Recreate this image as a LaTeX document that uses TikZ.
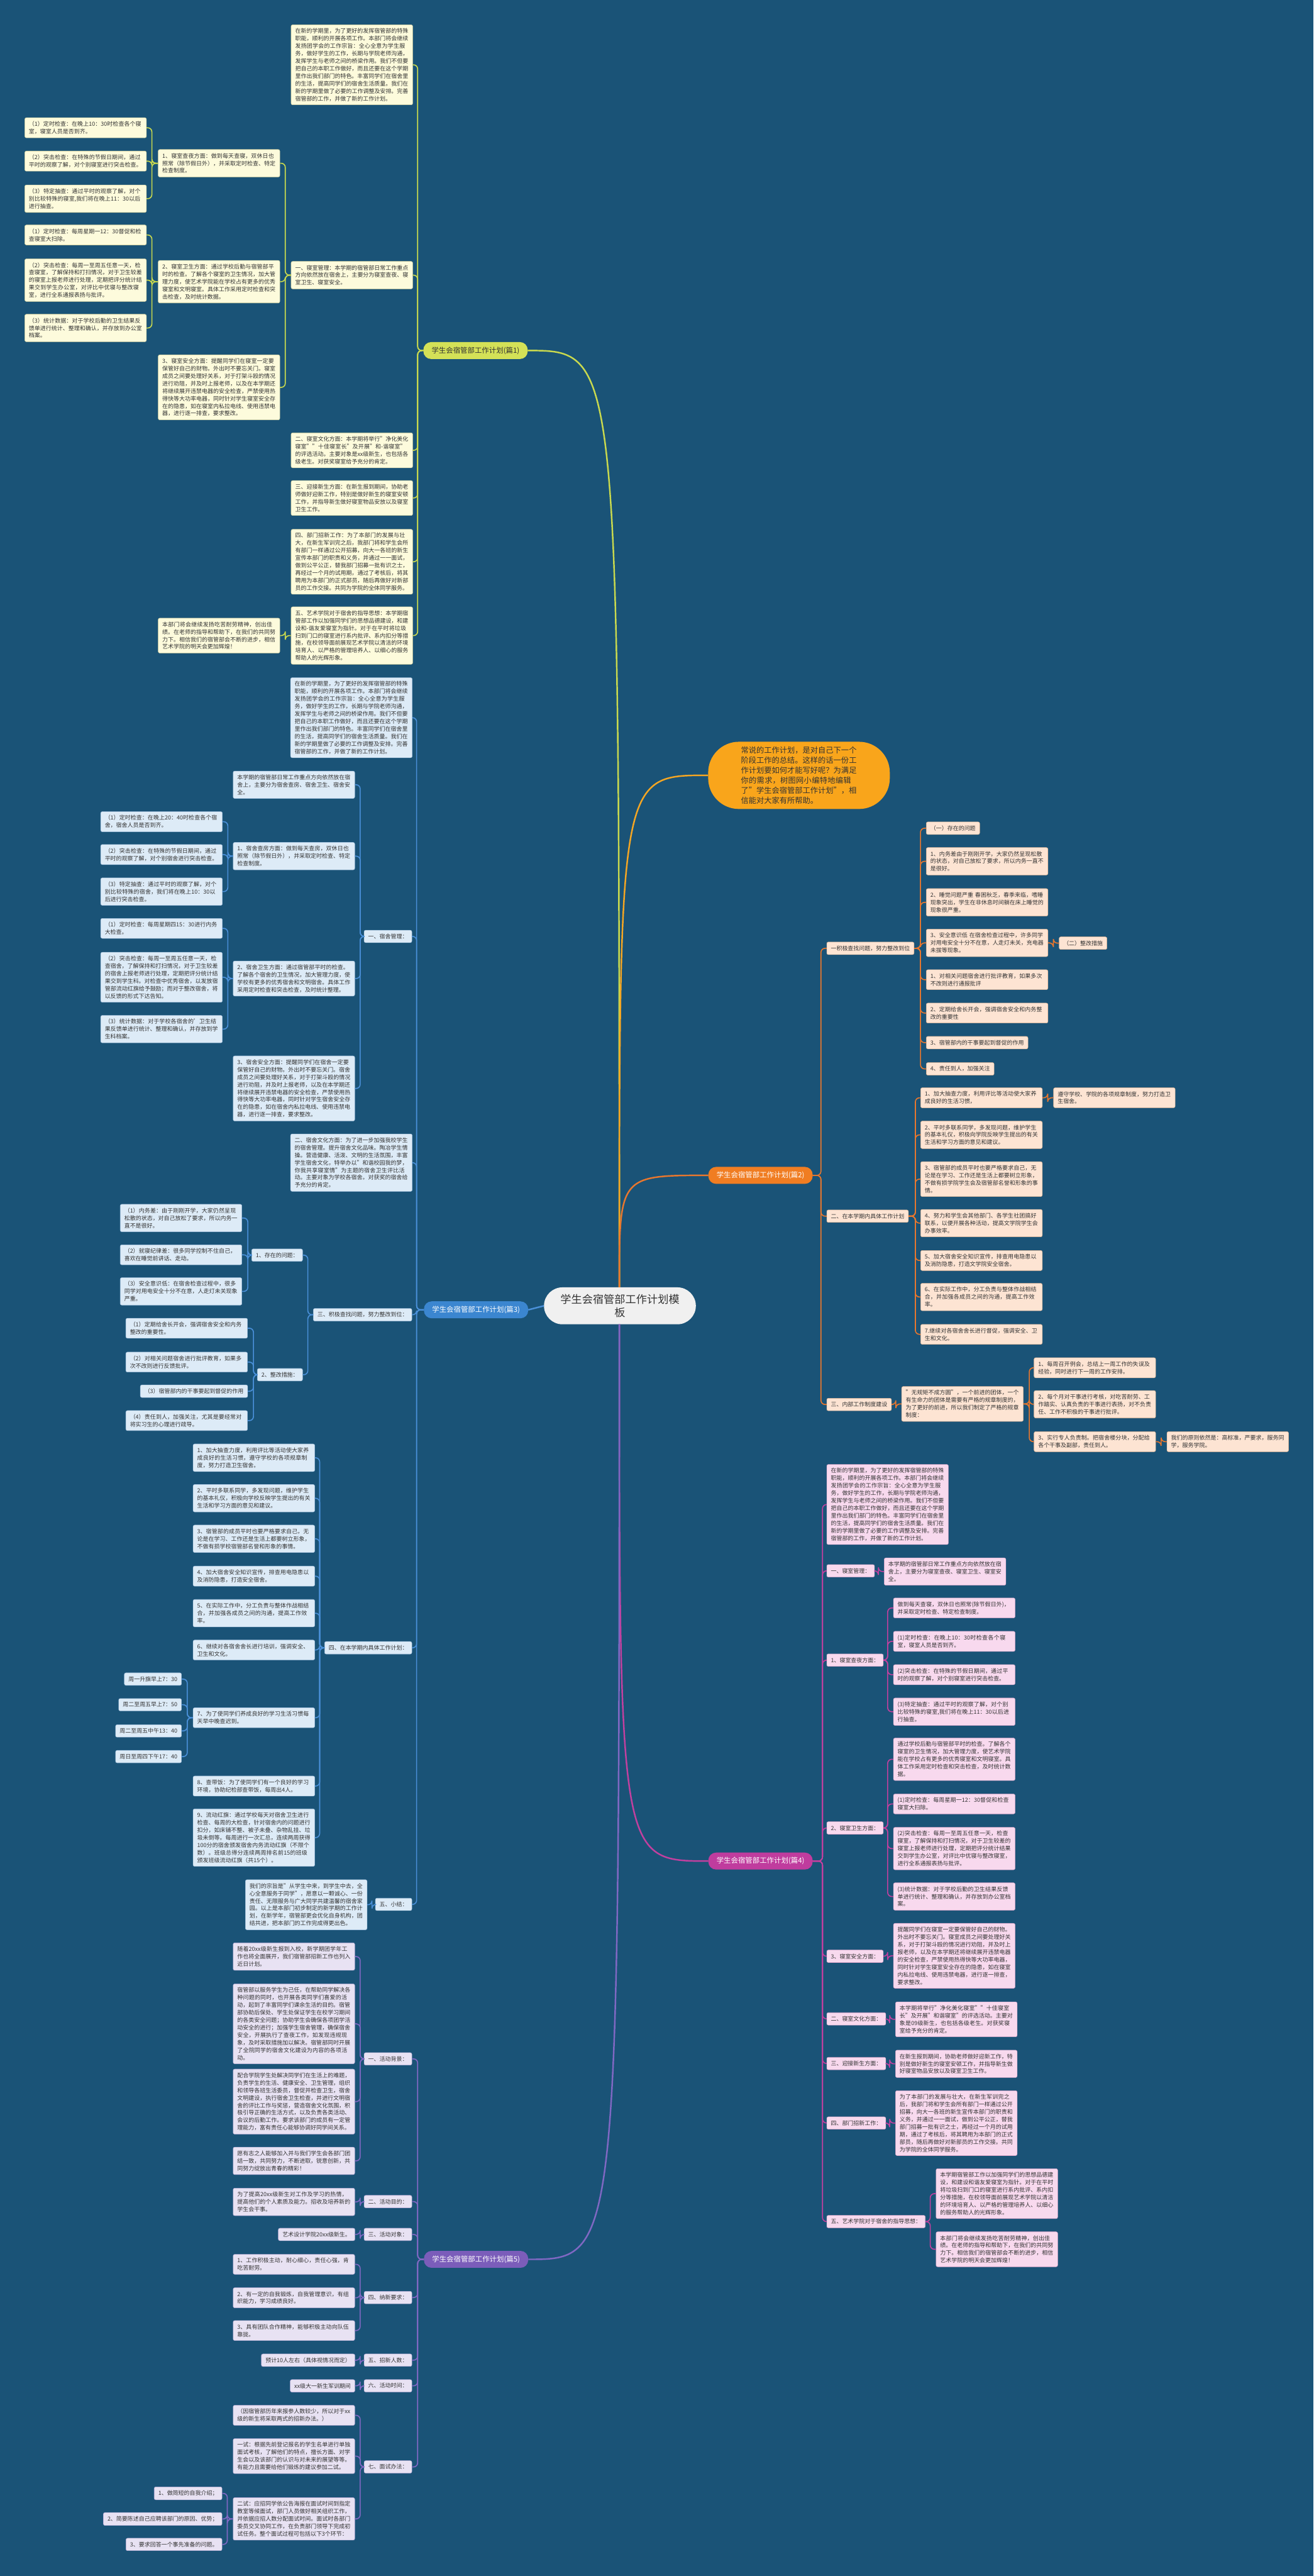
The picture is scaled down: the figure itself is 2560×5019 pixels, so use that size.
\documentclass[tikz,border=0pt]{standalone}
\usepackage{fontspec}
\setmainfont{Noto Sans CJK SC}
\XeTeXlinebreaklocale "zh"
\XeTeXlinebreakskip=0pt plus 1pt
\definecolor{bgc}{HTML}{1A5377}
\definecolor{txt}{HTML}{333333}
\definecolor{yfill}{HTML}{FDFBDC}\definecolor{yedge}{HTML}{D6D3A0}\definecolor{yline}{HTML}{C9D94E}\definecolor{ylabc}{HTML}{D4E157}
\definecolor{ofill}{HTML}{FDE4D3}\definecolor{oedge}{HTML}{E6B896}\definecolor{oline}{HTML}{E8772E}\definecolor{olabc}{HTML}{F07D22}
\definecolor{bfill}{HTML}{DDEBF7}\definecolor{bedge}{HTML}{A9C5E0}\definecolor{bline}{HTML}{4A90D9}\definecolor{blabc}{HTML}{3B86D0}
\definecolor{mfill}{HTML}{F8D9EE}\definecolor{medge}{HTML}{DDA8CC}\definecolor{mline}{HTML}{C2409F}\definecolor{mlabc}{HTML}{C03C9E}
\definecolor{pfill}{HTML}{E8E2F3}\definecolor{pedge}{HTML}{BDB0DA}\definecolor{pline}{HTML}{8068C3}\definecolor{plabc}{HTML}{7B5DBA}
\definecolor{introc}{HTML}{F9A51B}\definecolor{introl}{HTML}{F5A623}
\definecolor{ctrc}{HTML}{F0F0F0}
\tikzset{
 nbox/.style={rounded corners=3pt, inner xsep=8pt, inner ysep=7pt, font=\fontsize{11pt}{14.6pt}\selectfont, text=txt, align=left, line width=0.7pt},
 tw/.style={text width=221pt},
 nw/.style={anchor=north west}, ne/.style={anchor=north east},
 yb/.style={nbox, fill=yfill, draw=yedge},
 ob/.style={nbox, fill=ofill, draw=oedge},
 bb/.style={nbox, fill=bfill, draw=bedge},
 mb/.style={nbox, fill=mfill, draw=medge},
 pb/.style={nbox, fill=pfill, draw=pedge},
 blab/.style={rounded corners=15pt, inner xsep=16pt, inner ysep=8pt, minimum height=33pt, font=\fontsize{14pt}{16pt}\selectfont},
 lk/.style={line width=2pt, rounded corners=8pt},
 yl/.style={lk, draw=yline}, ol/.style={lk, draw=oline}, bl/.style={lk, draw=bline},
 ml/.style={lk, draw=mline}, pl/.style={lk, draw=pline},
}
\newcommand\linkL[4]{\draw[#1] (#2.west) -- (#2.west -| #3) |- (#4.east);}
\newcommand\linkR[4]{\draw[#1] (#2.east) -- (#2.east -| #3) |- (#4.west);}
\begin{document}
\begin{tikzpicture}[x=1pt,y=-1pt]
\fill[bgc] (0,0) rectangle (2560,5019);
\useasboundingbox (0,0) rectangle (2560,5019);

% ---------- center ----------
\node[fill=ctrc, rounded corners=36pt, minimum width=296pt, minimum height=72pt, text width=240pt, align=center, font=\fontsize{21pt}{26pt}\selectfont, text=txt, anchor=north west] (ctr) at (1060,2508) {学生会宿管部工作计划模\\板};

\node[fill=introc, rounded corners=60pt, inner xsep=64pt, inner ysep=7pt, text width=226pt, minimum height=131pt, align=left, font=\fontsize{15pt}{19.5pt}\selectfont, text=txt, anchor=north west] (intro) at (1380,1445) {常说的工作计划，是对自己下一个阶段工作的总结。这样的话一份工作计划要如何才能写好呢？为满足你的需求，树图网小编特地编辑了"学生会宿管部工作计划"，相信能对大家有所帮助。};

\node[blab, fill=ylabc, text=txt, anchor=west] (p1) at (825,683) {学生会宿管部工作计划(篇1)};
\node[blab, fill=olabc, text=white, anchor=east] (p2) at (1584,2290) {学生会宿管部工作计划(篇2)};
\node[blab, fill=blabc, text=white, anchor=west] (p3) at (826,2552) {学生会宿管部工作计划(篇3)};
\node[blab, fill=mlabc, text=white, anchor=east] (p4) at (1584,3626) {学生会宿管部工作计划(篇4)};
\node[blab, fill=plabc, text=white, anchor=west] (p5) at (826,4402) {学生会宿管部工作计划(篇5)};

\draw[draw=yline, line width=3pt] (1207,2508) .. controls (1207,683) and (1207,683) .. (p1.east);
\draw[draw=introl, line width=3pt] (1207,2508) .. controls (1207,1510) and (1207,1510) .. (intro.west);
\draw[draw=oline, line width=3pt] (1207,2508) .. controls (1207,2290) and (1207,2290) .. (p2.west);
\draw[draw=bline, line width=3pt] (ctr.west) -- (p3.east);
\draw[draw=mline, line width=3pt] (1207,2580) .. controls (1207,3626) and (1207,3626) .. (p4.west);
\draw[draw=pline, line width=3pt] (1207,2580) .. controls (1207,4402) and (1207,4402) .. (p5.east);

% ---------- trunk coordinates ----------
\coordinate (t1) at (814,0); \coordinate (t1b) at (556,0); \coordinate (t1b1) at (296,0);
\coordinate (t3) at (812,0); \coordinate (t3b) at (702,0); \coordinate (t3b1) at (444,0);
\coordinate (t3d) at (600,0); \coordinate (t3d1) at (483,0); \coordinate (t3d2) at (494,0);
\coordinate (t3e) at (623,0); \coordinate (t3e7) at (365,0); \coordinate (t3f) at (725,0);
\coordinate (t5) at (814,0); \coordinate (t5x) at (702,0); \coordinate (t5g) at (443,0);
\coordinate (t2) at (1600,0); \coordinate (t2A) at (1794,0); \coordinate (t2Ax) at (2053,0);
\coordinate (t2B) at (1784,0); \coordinate (t2Bx) at (2042,0); \coordinate (t2C) at (1746,0);
\coordinate (t2C1) at (2006,0); \coordinate (t2Cx) at (2263,0);
\coordinate (t4) at (1603,0); \coordinate (t4b) at (1712,0); \coordinate (t4c) at (1730,0);
\coordinate (t4f) at (1734,0); \coordinate (t4i) at (1813,0);

% ================= PT1 =================
\node[yb,tw,nw] (p1a) at (567,48) {在新的学期里，为了更好的发挥宿管部的特殊职能，顺利的开展各项工作。本部门将会继续发扬团学会的工作宗旨：全心全意为学生服务，做好学生的工作，长期与学院老师沟通，发挥学生与老师之间的桥梁作用。我们不但要把自己的本职工作做好，而且还要在这个学期里作出我们部门的特色。丰富同学们在宿舍里的生活，提高同学们的宿舍生活质量。我们在新的学期里做了必要的工作调整及安排。完善宿管部的工作，并做了新的工作计划。};
\node[yb,tw,nw] (p1b) at (567,509) {一、寝室管理：本学期的宿管部日常工作重点方向依然放在宿舍上，主要分为寝室查夜、寝室卫生、寝室安全。};
\node[yb,tw,nw] (p1c) at (567,843) {二、寝室文化方面：本学期将举行"净化美化寝室""十佳寝室长"及开展"和-谐寝室"的评选活动。主要对象是xx级新生，也包括各级老生。对获奖寝室给予充分的肯定。};
\node[yb,tw,nw] (p1d) at (567,936) {三、迎接新生方面：在新生报到期间，协助老师做好迎新工作，特别是做好新生的寝室安顿工作，并指导新生做好寝室物品安放以及寝室卫生工作。};
\node[yb,tw,nw] (p1e) at (567,1031) {四、部门招新工作：为了本部门的发展与壮大，在新生军训完之后，我部门将和学生会所有部门一样通过公开招募，向大一各班的新生宣传本部门的职责和义务，并通过一一面试，做到公平公正，替我部门招募一批有识之士，再经过一个月的试用期，通过了考核后，将其聘用为本部门的正式部员，随后再做好对新部员的工作交接。共同为学院的全体同学服务。};
\node[yb,tw,nw] (p1f) at (567,1182) {五、艺术学院对于宿舍的指导思想：本学期宿管部工作以加强同学们的思想品德建设，和建设和-谐友爱寝室为指针。对于在平时将垃圾扫到门口的寝室进行系内批评、系内扣分等措施，在校领导面前展现艺术学院以清洁的环境培育人、以严格的管理培养人、以细心的服务帮助人的光辉形象。};
\node[yb,tw,nw] (p1f1) at (308,1204) {本部门将会继续发扬吃苦耐劳精神，创出佳绩。在老师的指导和帮助下，在我们的共同努力下。相信我们的宿管部会不断的进步，相信艺术学院的明天会更加辉煌！};
\node[yb,tw,nw] (p1b1) at (308,291) {1、寝室查夜方面：做到每天查寝，双休日也照常（除节假日外），并采取定时检查、特定检查制度。};
\node[yb,tw,nw] (p1b2) at (308,507) {2、寝室卫生方面：通过学校后勤与宿管部平时的检查。了解各个寝室的卫生情况，加大管理力度，使艺术学院能在学校占有更多的优秀寝室和文明寝室。具体工作采用定时检查和突击检查，及时统计数据。};
\node[yb,tw,nw] (p1b3) at (308,691) {3、寝室安全方面：提醒同学们在寝室一定要保管好自己的财物。外出时不要忘关门。寝室成员之间要处理好关系，对于打架斗殴的情况进行劝阻，并及时上报老师，以及在本学期还将继续展开违禁电器的安全检查，严禁使用热得快等大功率电器，同时针对学生寝室安全存在的隐患，如在寝室内私拉电线、使用违禁电器，进行逐一排查，要求整改。};
\node[yb,tw,nw] (p1b1a) at (48,229) {（1）定时检查：在晚上10：30时检查各个寝室，寝室人员是否到齐。};
\node[yb,tw,nw] (p1b1b) at (48,294) {（2）突击检查：在特殊的节假日期间，通过平时的观察了解，对个别寝室进行突击检查。};
\node[yb,tw,nw] (p1b1c) at (48,360) {（3）特定抽查：通过平时的观察了解，对个别比较特殊的寝室,我们将在晚上11：30以后进行抽查。};
\node[yb,tw,nw] (p1b2a) at (48,438) {（1）定时检查：每周星期一12：30督促和检查寝室大扫除。};
\node[yb,tw,nw] (p1b2b) at (48,504) {（2）突击检查：每周一至周五任意一天，检查寝室，了解保持和打扫情况，对于卫生较差的寝室上报老师进行处理，定期把评分统计结果交到学生办公室，对评比中优寝与整改寝室，进行全系通报表扬与批评。};
\node[yb,tw,nw] (p1b2c) at (48,612) {（3）统计数据：对于学校后勤的卫生结果反馈单进行统计、整理和确认，并存放到办公室档案。};

\foreach \c in {p1a,p1b,p1c,p1d,p1e,p1f} {\linkL{yl}{p1}{t1}{\c}}
\foreach \c in {p1b1,p1b2,p1b3} {\linkL{yl}{p1b}{t1b}{\c}}
\linkL{yl}{p1f}{t1b}{p1f1}
\foreach \c in {p1b1a,p1b1b,p1b1c} {\linkL{yl}{p1b1}{t1b1}{\c}}
\foreach \c in {p1b2a,p1b2b,p1b2c} {\linkL{yl}{p1b2}{t1b1}{\c}}

% ================= PT3 =================
\node[bb,tw,nw] (p3a) at (566,1320) {在新的学期里，为了更好的发挥宿管部的特殊职能，顺利的开展各项工作。本部门将会继续发扬团学会的工作宗旨：全心全意为学生服务，做好学生的工作，长期与学院老师沟通，发挥学生与老师之间的桥梁作用。我们不但要把自己的本职工作做好，而且还要在这个学期里作出我们部门的特色。丰富同学们在宿舍里的生活，提高同学们的宿舍生活质量。我们在新的学期里做了必要的工作调整及安排。完善宿管部的工作，并做了新的工作计划。};
\node[bb,ne] (p3b) at (803,1812) {一、宿舍管理：};
\node[bb,tw,nw] (p3b0) at (454,1502) {本学期的宿管部日常工作重点方向依然放在宿舍上，主要分为宿舍查房、宿舍卫生、宿舍安全。};
\node[bb,tw,nw] (p3b1) at (454,1641) {1、宿舍查房方面：做到每天查房，双休日也照常（除节假日外），并采取定时检查、特定检查制度。};
\node[bb,tw,nw] (p3b2) at (454,1872) {2、宿舍卫生方面：通过宿管部平时的检查。了解各个宿舍的卫生情况，加大管理力度，使学校有更多的优秀宿舍和文明宿舍。具体工作采用定时检查和突击检查，及时统计整理。};
\node[bb,tw,nw] (p3b3) at (454,2057) {3、宿舍安全方面：提醒同学们在宿舍一定要保管好自己的财物。外出时不要忘关门。宿舍成员之间要处理好关系，对于打架斗殴的情况进行劝阻，并及时上报老师，以及在本学期还将继续展开违禁电器的安全检查，严禁使用热得快等大功率电器，同时针对学生宿舍安全存在的隐患，如在宿舍内私拉电线、使用违禁电器，进行逐一排查，要求整改。};
\node[bb,tw,nw] (p3b1a) at (196,1581) {（1）定时检查：在晚上20：40时检查各个宿舍，宿舍人员是否到齐。};
\node[bb,tw,nw] (p3b1b) at (196,1645) {（2）突击检查：在特殊的节假日期间，通过平时的观察了解，对个别宿舍进行突击检查。};
\node[bb,tw,nw] (p3b1c) at (196,1710) {（3）特定抽查：通过平时的观察了解，对个别比较特殊的宿舍，我们将在晚上10：30以后进行突击检查。};
\node[bb,tw,nw] (p3b2a) at (196,1789) {（1）定时检查：每周星期四15：30进行内务大检查。};
\node[bb,tw,nw] (p3b2b) at (196,1855) {（2）突击检查：每周一至周五任意一天，检查宿舍，了解保持和打扫情况，对于卫生较差的宿舍上报老师进行处理，定期把评分统计结果交到学生科。对检查中优秀宿舍，以发放宿管部流动红旗给予鼓励；而对于整改宿舍，将以反馈的形式下达告知。};
\node[bb,tw,nw] (p3b2c) at (196,1978) {（3）统计数据：对于学校各宿舍的'卫生结果反馈单进行统计、整理和确认，并存放到学生科档案。};
\node[bb,tw,nw] (p3c) at (566,2209) {二、宿舍文化方面：为了进一步加强我校学生的宿舍管理。提升宿舍文化品味。陶冶学生情操。营造健康、活泼、文明的生活氛围，丰富学生宿舍文化，特举办以"和谐校园我的梦，你我共享寝室情"为主题的宿舍卫生评比活动。主要对象为学校各宿舍。对获奖的宿舍给予充分的肯定。};
\node[bb,ne] (p3d) at (803,2549) {三、积极查找问题，努力整改到位：};
\node[bb,ne] (p3d1) at (590,2433) {1、存在的问题：};
\node[bb,ne] (p3d2) at (590,2666) {2、整改措施：};
\node[bb,tw,nw] (p3d1a) at (234,2346) {（1）内务差：由于刚刚开学，大家仍然呈现松散的状态，对自己放松了要求，所以内务一直不是很好。};
\node[bb,tw,nw] (p3d1b) at (234,2425) {（2）就寝纪律差：很多同学控制不住自己，喜欢在睡觉前讲话、走动。};
\node[bb,tw,nw] (p3d1c) at (234,2489) {（3）安全意识低：在宿舍检查过程中，很多同学对用电安全十分不在意，人走灯未关现象严重。};
\node[bb,tw,nw] (p3d2a) at (245,2568) {（1）定期给舍长开会，强调宿舍安全和内务整改的重要性。};
\node[bb,tw,nw] (p3d2b) at (245,2634) {（2）对相关问题宿舍进行批评教育，如果多次不改则进行反馈批评。};
\node[bb,ne] (p3d2c) at (483,2698) {（3）宿管部内的干事要起到督促的作用};
\node[bb,tw,nw] (p3d2d) at (245,2748) {（4）责任到人，加强关注，尤其是要经常对将实习生的心理进行疏导。};
\node[bb,ne] (p3e) at (803,3198) {四、在本学期内具体工作计划：};
\node[bb,tw,nw] (p3e1) at (376,2813) {1、加大抽查力度，利用评比等活动使大家养成良好的生活习惯，遵守学校的各项规章制度，努力打造卫生宿舍。};
\node[bb,tw,nw] (p3e2) at (376,2892) {2、平时多联系同学，多发现问题，维护学生的基本礼仪，积极向学校反映学生提出的有关生活和学习方面的意见和建议。};
\node[bb,tw,nw] (p3e3) at (376,2971) {3、宿管部的成员平时也要严格要求自己，无论是在学习、工作还是生活上都要树立形象，不做有损学校宿管部名誉和形象的事情。};
\node[bb,tw,nw] (p3e4) at (376,3051) {4、加大宿舍安全知识宣传，排查用电隐患以及消防隐患，打造安全宿舍。};
\node[bb,tw,nw] (p3e5) at (376,3116) {5、在实际工作中，分工负责与整体作战相结合，并加强各成员之间的沟通，提高工作效率。};
\node[bb,tw,nw] (p3e6) at (376,3195) {6、继续对各宿舍舍长进行培训，强调安全、卫生和文化。};
\node[bb,tw,nw] (p3e7) at (376,3327) {7、为了使同学们养成良好的学习生活习惯每天早中晚查迟到。};
\node[bb,tw,nw] (p3e8) at (376,3460) {8、查带饭：为了使同学们有一个良好的学习环境，协助纪检部查带饭，每周出4人。};
\node[bb,tw,nw] (p3e9) at (376,3524) {9、流动红旗：通过学校每天对宿舍卫生进行检查、每周的大检查，针对宿舍内的问题进行扣分，如床铺不整、被子未叠、杂物乱挂、垃圾未倒等。每周进行一次汇总，连续两周获得100分的宿舍颁发宿舍内务流动红旗（不限个数）。班级总得分连续两周排名前15的班级颁发班级流动红旗（共15个）。};
\node[bb,ne] (p3e7a) at (354,3259) {周一升旗早上7：30};
\node[bb,ne] (p3e7b) at (354,3309) {周二至周五早上7：50};
\node[bb,ne] (p3e7c) at (354,3360) {周二至周五中午13：40};
\node[bb,ne] (p3e7d) at (354,3410) {周日至周四下午17：40};
\node[bb,ne] (p3f) at (803,3698) {五、小结：};
\node[bb,tw,nw] (p3f1) at (478,3662) {我们的宗旨是"从学生中来，到学生中去，全心全意服务于同学"，愿意以一颗诚心、一份责任、无限服务与广大同学共建温馨的宿舍家园。以上是本部门初步制定的新学期的工作计划，在新学年，宿管部更会优化自身机构，团结共进，把本部门的工作完成得更出色。};

\foreach \c in {p3a,p3b,p3c,p3d,p3e,p3f} {\linkL{bl}{p3}{t3}{\c}}
\foreach \c in {p3b0,p3b1,p3b2,p3b3} {\linkL{bl}{p3b}{t3b}{\c}}
\foreach \c in {p3b1a,p3b1b,p3b1c} {\linkL{bl}{p3b1}{t3b1}{\c}}
\foreach \c in {p3b2a,p3b2b,p3b2c} {\linkL{bl}{p3b2}{t3b1}{\c}}
\foreach \c in {p3d1,p3d2} {\linkL{bl}{p3d}{t3d}{\c}}
\foreach \c in {p3d1a,p3d1b,p3d1c} {\linkL{bl}{p3d1}{t3d1}{\c}}
\foreach \c in {p3d2a,p3d2b,p3d2c,p3d2d} {\linkL{bl}{p3d2}{t3d2}{\c}}
\foreach \c in {p3e1,p3e2,p3e3,p3e4,p3e5,p3e6,p3e7,p3e8,p3e9} {\linkL{bl}{p3e}{t3e}{\c}}
\foreach \c in {p3e7a,p3e7b,p3e7c,p3e7d} {\linkL{bl}{p3e7}{t3e7}{\c}}
\linkL{bl}{p3f}{t3f}{p3f1}

% ================= PT5 =================
\node[pb,ne] (p5a) at (803,3999) {一、活动背景：};
\node[pb,tw,nw] (p5a1) at (454,3785) {随着20xx级新生报到入校，新学期团学年工作也将全面展开，我们宿管部招新工作也列入近日计划。};
\node[pb,tw,nw] (p5a2) at (454,3865) {宿管部以服务学生为己任，在帮助同学解决各种问题的同时，也开展各类同学们喜爱的活动，起到了丰富同学们课余生活的目的。宿管部协助后保处、学生处保证学生在校学习期间的各类安全问题；协助学生会确保各项团学活动安全的进行；加强学生宿舍管理，确保宿舍安全，开展执行了查夜工作，如发现违规现象，及时采取措施加以解决。宿管部同时开展了全院同学的宿舍文化建设为内容的各项活动。};
\node[pb,tw,nw] (p5a3) at (454,4031) {配合学院学生处解决同学们在生活上的难题，负责学生的生活、健康安全、卫生管理，组织和领导各班生活委员，督促并检查卫生，宿舍文明建设，执行宿舍卫生检查，并进行文明宿舍的评比工作与奖惩，营造宿舍文化氛围，积极引导正确的生活方式，以及负责各类活动、会议的后勤工作。要求该部门的成员有一定管理能力，富有责任心能够协调好同学间关系。};
\node[pb,tw,nw] (p5a4) at (454,4183) {愿有志之人能够加入并与我们学生会各部门团结一致，共同努力，不断进取，锐意创新，共同努力绽放出青春的精彩！};
\node[pb,ne] (p5b) at (803,4277) {二、活动目的：};
\node[pb,tw,nw] (p5b1) at (454,4263) {为了提高20xx级新生对工作及学习的热情，提高他们的个人素质及能力。招收及培养新的学生会干事。};
\node[pb,ne] (p5c) at (803,4341) {三、活动对象：};
\node[pb,ne] (p5c1) at (692,4341) {艺术设计学院20xx级新生。};
\node[pb,ne] (p5d) at (803,4464) {四、纳新要求：};
\node[pb,tw,nw] (p5d1) at (454,4392) {1、工作积极主动，耐心细心，责任心强，肯吃苦耐劳。};
\node[pb,tw,nw] (p5d2) at (454,4457) {2、有一定的自我锻炼，自我管理意识，有组织能力，学习成绩良好。};
\node[pb,tw,nw] (p5d3) at (454,4521) {3、具有团队合作精神，能够积极主动向队伍靠拢。};
\node[pb,ne] (p5e) at (803,4586) {五、招新人数：};
\node[pb,ne] (p5e1) at (692,4586) {预计10人左右（具体视情况而定）};
\node[pb,ne] (p5f) at (803,4636) {六、活动时间：};
\node[pb,ne] (p5f1) at (692,4636) {xx级大一新生军训期间};
\node[pb,ne] (p5g) at (803,4794) {七、面试办法：};
\node[pb,tw,nw] (p5g1) at (454,4686) {（因宿管部历年来报参人数较少，所以对于xx级的新生将采取两式的招新办法。）};
\node[pb,tw,nw] (p5g2) at (454,4751) {一试：根据先前登记报名的学生名单进行单独面试考核，了解他们的特点，擅长方面、对学生会以及该部门的认识与对未来的展望等等。有能力且需要给他们锻炼的建议参加二试。};
\node[pb,tw,nw] (p5g3) at (454,4866) {二试：应招同学依公告海报在面试时间到指定教室等候面试，部门人员做好相关组织工作，并依据应招人数分配面试时间。面试时各部门委员交叉协同工作，在负责部门领导下完成初试任务。整个面试过程可包括以下3个环节：};
\node[pb,ne] (p5g3a) at (433,4845) {1、做简短的自我介绍；};
\node[pb,ne] (p5g3b) at (433,4895) {2、简要陈述自己应聘该部门的原因、优势；};
\node[pb,ne] (p5g3c) at (433,4945) {3、要求回答一个事先准备的问题。};

\foreach \c in {p5a,p5b,p5c,p5d,p5e,p5f,p5g} {\linkL{pl}{p5}{t5}{\c}}
\foreach \c in {p5a1,p5a2,p5a3,p5a4} {\linkL{pl}{p5a}{t5x}{\c}}
\linkL{pl}{p5b}{t5x}{p5b1}
\linkL{pl}{p5c}{t5x}{p5c1}
\foreach \c in {p5d1,p5d2,p5d3} {\linkL{pl}{p5d}{t5x}{\c}}
\linkL{pl}{p5e}{t5x}{p5e1}
\linkL{pl}{p5f}{t5x}{p5f1}
\foreach \c in {p5g1,p5g2,p5g3} {\linkL{pl}{p5g}{t5x}{\c}}
\foreach \c in {p5g3a,p5g3b,p5g3c} {\linkL{pl}{p5g3}{t5g}{\c}}

% ================= PT2 =================
\node[ob,nw] (p2A) at (1611,1835) {一积极查找问题，努力整改到位};
\node[ob,nw] (p2A1) at (1805,1601) {（一）存在的问题};
\node[ob,tw,nw] (p2A2) at (1805,1651) {1、内务差由于刚刚开学，大家仍然呈现松散的状态，对自己放松了要求，所以内务一直不是很好。};
\node[ob,tw,nw] (p2A3) at (1805,1731) {2、睡觉问题严重 春困秋乏，春季来临，嗜睡现象突出，学生在非休息时间躺在床上睡觉的现象很严重。};
\node[ob,tw,nw] (p2A4) at (1805,1810) {3、安全意识低 在宿舍检查过程中，许多同学对用电安全十分不在意，人走灯未关，充电器未拔等现象。};
\node[ob,nw] (p2A4x) at (2064,1825) {（二）整改措施};
\node[ob,tw,nw] (p2A5) at (1805,1889) {1、对相关问题宿舍进行批评教育，如果多次不改则进行通报批评};
\node[ob,tw,nw] (p2A6) at (1805,1954) {2、定期给舍长开会，强调宿舍安全和内务整改的重要性};
\node[ob,nw] (p2A7) at (1805,2019) {3、宿管部内的干事要起到督促的作用};
\node[ob,nw] (p2A8) at (1805,2070) {4、责任到人，加强关注};
\node[ob,nw] (p2B) at (1611,2357) {二、在本学期内具体工作计划};
\node[ob,tw,nw] (p2B1) at (1794,2119) {1、加大抽查力度，利用评比等活动使大家养成良好的生活习惯，};
\node[ob,tw,nw] (p2B1x) at (2053,2119) {遵守学校、学院的各项规章制度，努力打造卫生宿舍。};
\node[ob,tw,nw] (p2B2) at (1794,2184) {2、平时多联系同学，多发现问题，维护学生的基本礼仪，积极向学院反映学生提出的有关生活和学习方面的意见和建议。};
\node[ob,tw,nw] (p2B3) at (1794,2263) {3、宿管部的成员平时也要严格要求自己，无论是在学习、工作还是生活上都要树立形象，不做有损学院学生会及宿管部名誉和形象的事情。};
\node[ob,tw,nw] (p2B4) at (1794,2356) {4、努力和学生会其他部门、各学生社团搞好联系，以便开展各种活动，提高文学院学生会办事效率。};
\node[ob,tw,nw] (p2B5) at (1794,2436) {5、加大宿舍安全知识宣传，排查用电隐患以及消防隐患，打造文学院安全宿舍。};
\node[ob,tw,nw] (p2B6) at (1794,2500) {6、在实际工作中，分工负责与整体作战相结合，并加强各成员之间的沟通，提高工作效率。};
\node[ob,tw,nw] (p2B7) at (1794,2580) {7.继续对各宿舍舍长进行督促，强调安全、卫生和文化。};
\node[ob,nw] (p2C) at (1611,2724) {三、内部工作制度建设};
\node[ob,tw,nw] (p2C1) at (1757,2701) {"无规矩不成方圆"，一个前进的团体，一个有生命力的团体是需要有严格的规章制度的，为了更好的前进，所以我们制定了严格的规章制度：};
\node[ob,tw,nw] (p2C11) at (2015,2645) {1、每周召开例会，总结上一周工作的失误及经验，同时进行下一周的工作安排。};
\node[ob,tw,nw] (p2C12) at (2015,2709) {2、每个月对干事进行考核，对吃苦耐劳、工作踏实、认真负责的干事进行表扬，对不负责任、工作不积极的干事进行批评。};
\node[ob,tw,nw] (p2C13) at (2015,2789) {3、实行专人负责制。把宿舍楼分块，分配给各个干事及副部，责任到人。};
\node[ob,tw,nw] (p2C13x) at (2274,2789) {我们的原则依然是：高标准，严要求，服务同学，服务学院。};

\foreach \c in {p2A,p2B,p2C} {\linkR{ol}{p2}{t2}{\c}}
\foreach \c in {p2A1,p2A2,p2A3,p2A4,p2A5,p2A6,p2A7,p2A8} {\linkR{ol}{p2A}{t2A}{\c}}
\linkR{ol}{p2A4}{t2Ax}{p2A4x}
\foreach \c in {p2B1,p2B2,p2B3,p2B4,p2B5,p2B6,p2B7} {\linkR{ol}{p2B}{t2B}{\c}}
\linkR{ol}{p2B1}{t2Bx}{p2B1x}
\linkR{ol}{p2C}{t2C}{p2C1}
\foreach \c in {p2C11,p2C12,p2C13} {\linkR{ol}{p2C1}{t2C1}{\c}}
\linkR{ol}{p2C13}{t2Cx}{p2C13x}

% ================= PT4 =================
\node[mb,tw,nw] (p4a) at (1611,2853) {在新的学期里，为了更好的发挥宿管部的特殊职能，顺利的开展各项工作。本部门将会继续发扬团学会的工作宗旨：全心全意为学生服务，做好学生的工作，长期与学院老师沟通，发挥学生与老师之间的桥梁作用。我们不但要把自己的本职工作做好，而且还要在这个学期里作出我们部门的特色。丰富同学们在宿舍里的生活，提高同学们的宿舍生活质量。我们在新的学期里做了必要的工作调整及安排。完善宿管部的工作，并做了新的工作计划。};
\node[mb,nw] (p4b) at (1611,3048) {一、寝室管理：};
\node[mb,tw,nw] (p4b1) at (1723,3035) {本学期的宿管部日常工作重点方向依然放在宿舍上，主要分为寝室查夜、寝室卫生、寝室安全。};
\node[mb,nw] (p4c) at (1611,3222) {1、寝室查夜方面：};
\node[mb,tw,nw] (p4c1) at (1741,3113) {做到每天查寝，双休日也照常(除节假日外)，并采取定时检查、特定检查制度。};
\node[mb,tw,nw] (p4c2) at (1741,3178) {(1)定时检查：在晚上10：30时检查各个寝室，寝室人员是否到齐。};
\node[mb,tw,nw] (p4c3) at (1741,3243) {(2)突击检查：在特殊的节假日期间，通过平时的观察了解，对个别寝室进行突击检查。};
\node[mb,tw,nw] (p4c4) at (1741,3308) {(3)特定抽查：通过平时的观察了解，对个别比较特殊的寝室,我们将在晚上11：30以后进行抽查。};
\node[mb,nw] (p4d) at (1611,3549) {2、寝室卫生方面：};
\node[mb,tw,nw] (p4d1) at (1741,3386) {通过学校后勤与宿管部平时的检查。了解各个寝室的卫生情况，加大管理力度，使艺术学院能在学校占有更多的优秀寝室和文明寝室。具体工作采用定时检查和突击检查，及时统计数据。};
\node[mb,tw,nw] (p4d2) at (1741,3495) {(1)定时检查：每周星期一12：30督促和检查寝室大扫除。};
\node[mb,tw,nw] (p4d3) at (1741,3560) {(2)突击检查：每周一至周五任意一天，检查寝室，了解保持和打扫情况，对于卫生较差的寝室上报老师进行处理，定期把评分统计结果交到学生办公室，对评比中优寝与整改寝室，进行全系通报表扬与批评。};
\node[mb,tw,nw] (p4d4) at (1741,3668) {(3)统计数据：对于学校后勤的卫生结果反馈单进行统计、整理和确认，并存放到办公室档案。};
\node[mb,nw] (p4e) at (1611,3799) {3、寝室安全方面：};
\node[mb,tw,nw] (p4e1) at (1741,3747) {提醒同学们在寝室一定要保管好自己的财物。外出时不要忘关门。寝室成员之间要处理好关系，对于打架斗殴的情况进行劝阻，并及时上报老师，以及在本学期还将继续展开违禁电器的安全检查，严禁使用热得快等大功率电器，同时针对学生寝室安全存在的隐患，如在寝室内私拉电线、使用违禁电器，进行逐一排查，要求整改。};
\node[mb,nw] (p4f) at (1611,3921) {二、寝室文化方面：};
\node[mb,tw,nw] (p4f1) at (1745,3900) {本学期将举行"净化美化寝室""十佳寝室长"及开展"和谐寝室"的评选活动。主要对象是09级新生，也包括各级老生。对获奖寝室给予充分的肯定。};
\node[mb,nw] (p4g) at (1611,4008) {三、迎接新生方面：};
\node[mb,tw,nw] (p4g1) at (1745,3994) {在新生报到期间，协助老师做好迎新工作，特别是做好新生的寝室安顿工作，并指导新生做好寝室物品安放以及寝室卫生工作。};
\node[mb,nw] (p4h) at (1611,4124) {四、部门招新工作：};
\node[mb,tw,nw] (p4h1) at (1745,4073) {为了本部门的发展与壮大，在新生军训完之后，我部门将和学生会所有部门一样通过公开招募，向大一各班的新生宣传本部门的职责和义务，并通过一一面试，做到公平公正，替我部门招募一批有识之士，再经过一个月的试用期，通过了考核后，将其聘用为本部门的正式部员，随后再做好对新部员的工作交接。共同为学院的全体同学服务。};
\node[mb,nw] (p4i) at (1611,4316) {五、艺术学院对于宿舍的指导思想：};
\node[mb,tw,nw] (p4i1) at (1824,4225) {本学期宿管部工作以加强同学们的思想品德建设，和建设和谐友爱寝室为指针。对于在平时将垃圾扫到门口的寝室进行系内批评、系内扣分等措施，在校领导面前展现艺术学院以清洁的环境培育人、以严格的管理培养人、以细心的服务帮助人的光辉形象。};
\node[mb,tw,nw] (p4i2) at (1824,4348) {本部门将会继续发扬吃苦耐劳精神，创出佳绩。在老师的指导和帮助下，在我们的共同努力下。相信我们的宿管部会不断的进步，相信艺术学院的明天会更加辉煌！};

\foreach \c in {p4a,p4b,p4c,p4d,p4e,p4f,p4g,p4h,p4i} {\linkR{ml}{p4}{t4}{\c}}
\linkR{ml}{p4b}{t4b}{p4b1}
\foreach \c in {p4c1,p4c2,p4c3,p4c4} {\linkR{ml}{p4c}{t4c}{\c}}
\foreach \c in {p4d1,p4d2,p4d3,p4d4} {\linkR{ml}{p4d}{t4c}{\c}}
\linkR{ml}{p4e}{t4c}{p4e1}
\linkR{ml}{p4f}{t4f}{p4f1}
\linkR{ml}{p4g}{t4f}{p4g1}
\linkR{ml}{p4h}{t4f}{p4h1}
\foreach \c in {p4i1,p4i2} {\linkR{ml}{p4i}{t4i}{\c}}
\end{tikzpicture}
\end{document}
